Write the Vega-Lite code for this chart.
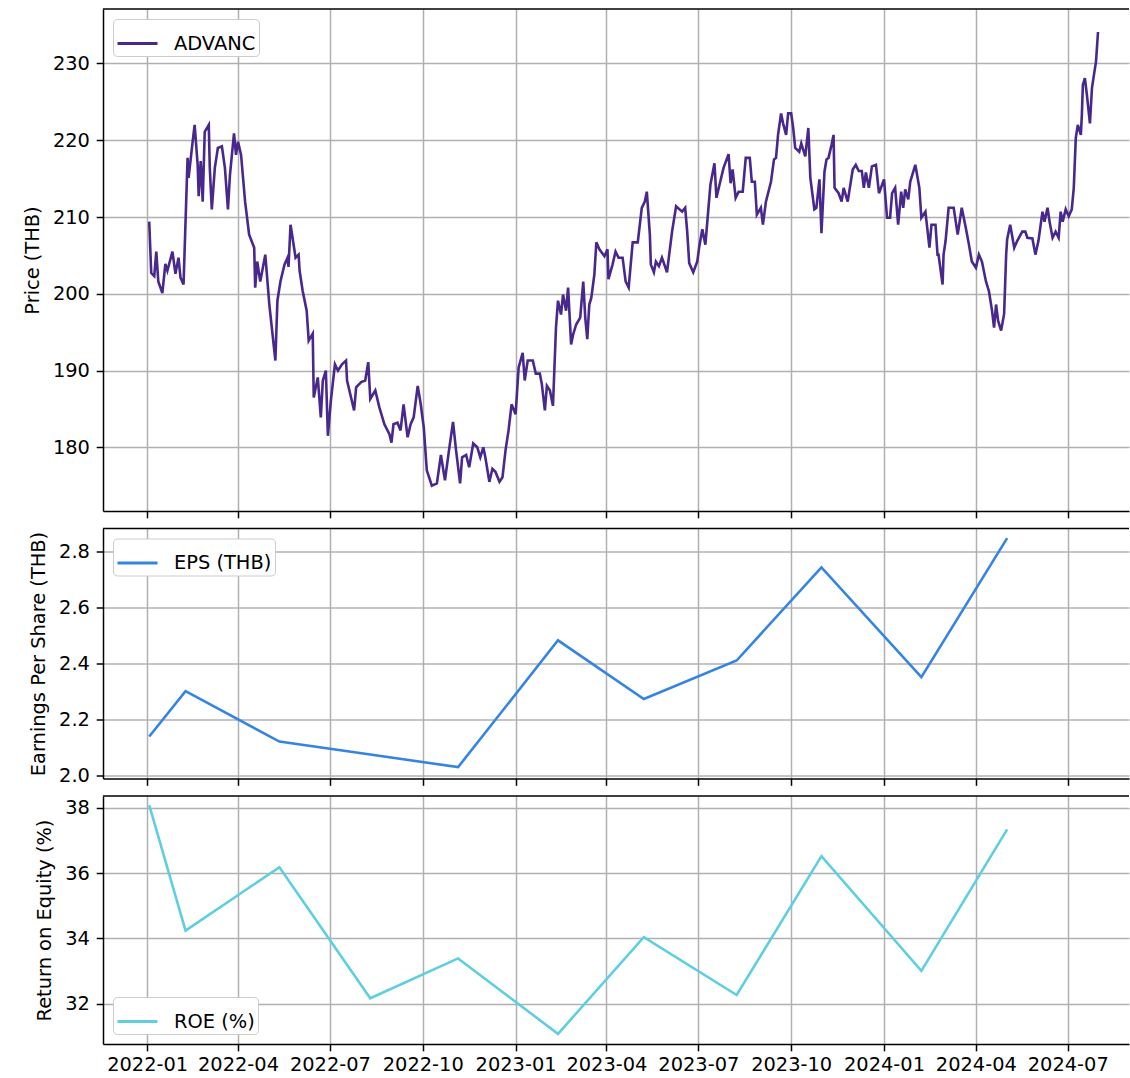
{
"$schema": "https://vega.github.io/schema/vega-lite/v6.json",
"padding": {"left": 22, "top": 8, "right": 0, "bottom": 0},
"autosize": {"type": "pad"},
"bounds": "flush",
"spacing": 17.5,
"background": "white",
"config": {
 "view": {"stroke": null},
 "font": "DejaVu Sans",
 "axis": {"grid": true, "gridColor": "#b0b0b0", "gridWidth": 1.5, "domainColor": "#000", "domainWidth": 1.5, "tickColor": "#000", "tickWidth": 1.5, "tickSize": 6.8, "labelPadding": 6.8, "labelFont": "DejaVu Sans", "labelFontSize": 19.4, "labelColor": "#000", "titleFont": "DejaVu Sans", "titleFontSize": 19.4, "titleFontWeight": "normal", "titleColor": "#000", "titlePadding": 10},
 "legend": {"title": null, "offset": 10, "padding": 3, "strokeColor": "#cccccc", "fillColor": "white", "cornerRadius": 4, "symbolType": "stroke", "symbolSize": 1600, "symbolStrokeWidth": 2.9, "labelFont": "DejaVu Sans", "labelFontSize": 19.4, "labelColor": "#000", "labelOffset": 15}
},
"datasets": {
 "price": [
{"date":"2022-01-03","close":209.4},{"date":"2022-01-05","close":202.7},{"date":"2022-01-08","close":202.3},{"date":"2022-01-10","close":205.5},{"date":"2022-01-12","close":201.6},{"date":"2022-01-16","close":200.1},{"date":"2022-01-19","close":203.9},{"date":"2022-01-21","close":203.0},{"date":"2022-01-26","close":205.5},{"date":"2022-01-29","close":202.6},{"date":"2022-02-01","close":204.7},{"date":"2022-02-03","close":202.1},{"date":"2022-02-06","close":201.2},{"date":"2022-02-10","close":217.7},{"date":"2022-02-11","close":215.1},{"date":"2022-02-15","close":219.8},{"date":"2022-02-17","close":222.0},{"date":"2022-02-20","close":216.8},{"date":"2022-02-21","close":212.7},{"date":"2022-02-23","close":217.3},{"date":"2022-02-25","close":212.0},{"date":"2022-02-27","close":221.1},{"date":"2022-03-03","close":222.0},{"date":"2022-03-04","close":216.4},{"date":"2022-03-06","close":211.0},{"date":"2022-03-09","close":216.4},{"date":"2022-03-12","close":219.0},{"date":"2022-03-16","close":219.2},{"date":"2022-03-19","close":216.4},{"date":"2022-03-22","close":211.0},{"date":"2022-03-24","close":215.5},{"date":"2022-03-28","close":220.9},{"date":"2022-03-30","close":218.1},{"date":"2022-04-01","close":219.8},{"date":"2022-04-04","close":218.1},{"date":"2022-04-08","close":212.0},{"date":"2022-04-12","close":207.7},{"date":"2022-04-17","close":206.0},{"date":"2022-04-18","close":200.8},{"date":"2022-04-20","close":204.2},{"date":"2022-04-23","close":201.6},{"date":"2022-04-28","close":205.1},{"date":"2022-05-02","close":198.6},{"date":"2022-05-08","close":191.3},{"date":"2022-05-10","close":199.1},{"date":"2022-05-13","close":201.6},{"date":"2022-05-17","close":203.8},{"date":"2022-05-20","close":204.7},{"date":"2022-05-21","close":203.5},{"date":"2022-05-23","close":209.0},{"date":"2022-05-25","close":207.3},{"date":"2022-05-28","close":204.7},{"date":"2022-05-31","close":205.1},{"date":"2022-06-01","close":203.0},{"date":"2022-06-04","close":200.4},{"date":"2022-06-08","close":197.8},{"date":"2022-06-10","close":193.9},{"date":"2022-06-14","close":194.8},{"date":"2022-06-15","close":186.5},{"date":"2022-06-19","close":189.1},{"date":"2022-06-22","close":183.9},{"date":"2022-06-24","close":188.7},{"date":"2022-06-27","close":190.0},{"date":"2022-06-29","close":181.5},{"date":"2022-07-02","close":186.1},{"date":"2022-07-06","close":190.8},{"date":"2022-07-09","close":190.0},{"date":"2022-07-13","close":190.8},{"date":"2022-07-17","close":191.3},{"date":"2022-07-18","close":188.7},{"date":"2022-07-25","close":184.8},{"date":"2022-07-27","close":187.8},{"date":"2022-08-01","close":188.5},{"date":"2022-08-05","close":188.7},{"date":"2022-08-08","close":191.1},{"date":"2022-08-10","close":186.3},{"date":"2022-08-15","close":187.4},{"date":"2022-08-19","close":185.2},{"date":"2022-08-24","close":183.0},{"date":"2022-08-29","close":181.7},{"date":"2022-08-31","close":180.6},{"date":"2022-09-02","close":183.0},{"date":"2022-09-06","close":183.2},{"date":"2022-09-09","close":182.2},{"date":"2022-09-12","close":185.6},{"date":"2022-09-16","close":181.3},{"date":"2022-09-19","close":183.0},{"date":"2022-09-22","close":183.9},{"date":"2022-09-26","close":188.0},{"date":"2022-09-29","close":185.6},{"date":"2022-10-02","close":182.6},{"date":"2022-10-05","close":177.0},{"date":"2022-10-10","close":175.0},{"date":"2022-10-15","close":175.3},{"date":"2022-10-19","close":179.0},{"date":"2022-10-23","close":175.7},{"date":"2022-10-27","close":179.6},{"date":"2022-10-31","close":183.3},{"date":"2022-11-03","close":179.6},{"date":"2022-11-07","close":175.3},{"date":"2022-11-09","close":178.7},{"date":"2022-11-13","close":179.0},{"date":"2022-11-16","close":177.4},{"date":"2022-11-20","close":180.5},{"date":"2022-11-24","close":180.0},{"date":"2022-11-27","close":178.7},{"date":"2022-11-30","close":180.0},{"date":"2022-12-02","close":178.7},{"date":"2022-12-06","close":175.5},{"date":"2022-12-09","close":177.2},{"date":"2022-12-12","close":176.8},{"date":"2022-12-16","close":175.5},{"date":"2022-12-19","close":176.1},{"date":"2022-12-22","close":179.6},{"date":"2022-12-25","close":182.2},{"date":"2022-12-28","close":185.6},{"date":"2023-01-01","close":184.3},{"date":"2023-01-04","close":190.4},{"date":"2023-01-08","close":192.3},{"date":"2023-01-10","close":188.7},{"date":"2023-01-13","close":191.3},{"date":"2023-01-18","close":191.3},{"date":"2023-01-21","close":189.6},{"date":"2023-01-25","close":189.6},{"date":"2023-01-27","close":188.2},{"date":"2023-01-30","close":184.8},{"date":"2023-02-01","close":188.0},{"date":"2023-02-04","close":187.4},{"date":"2023-02-07","close":185.4},{"date":"2023-02-10","close":195.6},{"date":"2023-02-12","close":199.1},{"date":"2023-02-15","close":197.3},{"date":"2023-02-17","close":199.9},{"date":"2023-02-20","close":197.8},{"date":"2023-02-22","close":200.8},{"date":"2023-02-25","close":193.4},{"date":"2023-02-27","close":194.7},{"date":"2023-03-02","close":196.0},{"date":"2023-03-06","close":196.9},{"date":"2023-03-09","close":201.6},{"date":"2023-03-11","close":196.9},{"date":"2023-03-13","close":194.1},{"date":"2023-03-15","close":198.6},{"date":"2023-03-17","close":199.5},{"date":"2023-03-20","close":202.5},{"date":"2023-03-22","close":206.7},{"date":"2023-03-25","close":205.8},{"date":"2023-03-30","close":204.9},{"date":"2023-04-02","close":205.8},{"date":"2023-04-03","close":201.9},{"date":"2023-04-07","close":203.8},{"date":"2023-04-10","close":205.5},{"date":"2023-04-13","close":204.7},{"date":"2023-04-17","close":204.7},{"date":"2023-04-20","close":201.6},{"date":"2023-04-23","close":200.8},{"date":"2023-04-27","close":206.7},{"date":"2023-05-02","close":206.7},{"date":"2023-05-06","close":211.2},{"date":"2023-05-09","close":212.0},{"date":"2023-05-11","close":213.3},{"date":"2023-05-14","close":207.7},{"date":"2023-05-15","close":203.8},{"date":"2023-05-18","close":202.8},{"date":"2023-05-20","close":204.2},{"date":"2023-05-23","close":203.6},{"date":"2023-05-26","close":204.7},{"date":"2023-05-31","close":202.8},{"date":"2023-06-05","close":208.1},{"date":"2023-06-09","close":211.4},{"date":"2023-06-15","close":210.7},{"date":"2023-06-18","close":211.2},{"date":"2023-06-20","close":208.1},{"date":"2023-06-22","close":204.0},{"date":"2023-06-26","close":202.8},{"date":"2023-06-30","close":204.2},{"date":"2023-07-02","close":206.2},{"date":"2023-07-05","close":208.4},{"date":"2023-07-08","close":206.4},{"date":"2023-07-13","close":214.2},{"date":"2023-07-17","close":217.0},{"date":"2023-07-19","close":212.5},{"date":"2023-07-22","close":214.2},{"date":"2023-07-26","close":216.4},{"date":"2023-07-31","close":218.2},{"date":"2023-08-02","close":214.4},{"date":"2023-08-04","close":216.2},{"date":"2023-08-07","close":212.5},{"date":"2023-08-10","close":213.3},{"date":"2023-08-14","close":213.3},{"date":"2023-08-17","close":217.7},{"date":"2023-08-21","close":217.7},{"date":"2023-08-23","close":214.6},{"date":"2023-08-26","close":214.6},{"date":"2023-08-28","close":210.3},{"date":"2023-09-01","close":211.2},{"date":"2023-09-03","close":209.0},{"date":"2023-09-06","close":212.0},{"date":"2023-09-11","close":214.6},{"date":"2023-09-14","close":217.5},{"date":"2023-09-16","close":217.7},{"date":"2023-09-18","close":220.7},{"date":"2023-09-21","close":223.5},{"date":"2023-09-23","close":222.2},{"date":"2023-09-26","close":220.7},{"date":"2023-09-28","close":223.5},{"date":"2023-10-01","close":223.5},{"date":"2023-10-03","close":221.6},{"date":"2023-10-05","close":219.0},{"date":"2023-10-09","close":218.5},{"date":"2023-10-11","close":219.6},{"date":"2023-10-15","close":217.9},{"date":"2023-10-18","close":221.6},{"date":"2023-10-20","close":215.1},{"date":"2023-10-24","close":211.0},{"date":"2023-10-26","close":211.2},{"date":"2023-10-29","close":214.9},{"date":"2023-10-31","close":207.9},{"date":"2023-11-03","close":215.9},{"date":"2023-11-05","close":217.5},{"date":"2023-11-07","close":217.7},{"date":"2023-11-10","close":219.4},{"date":"2023-11-12","close":220.7},{"date":"2023-11-13","close":213.8},{"date":"2023-11-17","close":213.1},{"date":"2023-11-20","close":212.0},{"date":"2023-11-22","close":213.8},{"date":"2023-11-26","close":212.0},{"date":"2023-12-01","close":216.2},{"date":"2023-12-04","close":216.8},{"date":"2023-12-07","close":216.0},{"date":"2023-12-10","close":216.0},{"date":"2023-12-12","close":213.8},{"date":"2023-12-14","close":215.8},{"date":"2023-12-17","close":213.8},{"date":"2023-12-20","close":216.6},{"date":"2023-12-24","close":216.8},{"date":"2023-12-27","close":213.1},{"date":"2024-01-01","close":214.9},{"date":"2024-01-04","close":209.9},{"date":"2024-01-07","close":209.9},{"date":"2024-01-09","close":213.1},{"date":"2024-01-12","close":213.8},{"date":"2024-01-15","close":209.0},{"date":"2024-01-18","close":213.3},{"date":"2024-01-20","close":211.2},{"date":"2024-01-22","close":213.6},{"date":"2024-01-25","close":212.3},{"date":"2024-01-27","close":214.6},{"date":"2024-02-01","close":216.8},{"date":"2024-02-05","close":213.8},{"date":"2024-02-07","close":209.9},{"date":"2024-02-11","close":210.7},{"date":"2024-02-15","close":206.0},{"date":"2024-02-17","close":209.0},{"date":"2024-02-21","close":209.0},{"date":"2024-02-23","close":205.1},{"date":"2024-02-24","close":205.1},{"date":"2024-02-28","close":201.2},{"date":"2024-02-29","close":205.1},{"date":"2024-03-02","close":206.9},{"date":"2024-03-05","close":211.2},{"date":"2024-03-10","close":211.2},{"date":"2024-03-14","close":207.7},{"date":"2024-03-18","close":211.2},{"date":"2024-03-22","close":208.6},{"date":"2024-03-25","close":206.5},{"date":"2024-03-28","close":204.2},{"date":"2024-04-01","close":203.4},{"date":"2024-04-04","close":205.1},{"date":"2024-04-07","close":204.2},{"date":"2024-04-11","close":201.6},{"date":"2024-04-14","close":200.3},{"date":"2024-04-17","close":197.8},{"date":"2024-04-19","close":195.6},{"date":"2024-04-21","close":198.6},{"date":"2024-04-23","close":196.5},{"date":"2024-04-26","close":195.2},{"date":"2024-04-29","close":197.4},{"date":"2024-05-01","close":205.1},{"date":"2024-05-02","close":207.1},{"date":"2024-05-05","close":209.0},{"date":"2024-05-09","close":206.0},{"date":"2024-05-12","close":206.9},{"date":"2024-05-17","close":208.1},{"date":"2024-05-20","close":208.1},{"date":"2024-05-22","close":207.3},{"date":"2024-05-27","close":207.2},{"date":"2024-05-30","close":205.1},{"date":"2024-06-02","close":206.9},{"date":"2024-06-06","close":210.7},{"date":"2024-06-08","close":209.4},{"date":"2024-06-11","close":211.2},{"date":"2024-06-13","close":209.4},{"date":"2024-06-16","close":207.3},{"date":"2024-06-19","close":208.1},{"date":"2024-06-22","close":207.3},{"date":"2024-06-24","close":210.7},{"date":"2024-06-26","close":209.4},{"date":"2024-06-29","close":211.0},{"date":"2024-07-02","close":210.1},{"date":"2024-07-05","close":211.0},{"date":"2024-07-07","close":213.8},{"date":"2024-07-09","close":220.3},{"date":"2024-07-11","close":222.0},{"date":"2024-07-14","close":220.7},{"date":"2024-07-15","close":223.3},{"date":"2024-07-16","close":227.2},{"date":"2024-07-18","close":228.1},{"date":"2024-07-20","close":225.9},{"date":"2024-07-23","close":222.2},{"date":"2024-07-25","close":226.8},{"date":"2024-07-28","close":229.4},{"date":"2024-07-29","close":230.2},{"date":"2024-07-31","close":234.1}
 ],
 "fin": [
{"date":"2022-01-03","eps":2.139,"roe":38.08},{"date":"2022-02-08","eps":2.301,"roe":34.24},{"date":"2022-05-12","eps":2.121,"roe":36.18},{"date":"2022-08-10","eps":2.075,"roe":32.17},{"date":"2022-11-05","eps":2.03,"roe":33.39},{"date":"2023-02-12","eps":2.482,"roe":31.08},{"date":"2023-05-08","eps":2.273,"roe":34.04},{"date":"2023-08-08","eps":2.41,"roe":32.27},{"date":"2023-10-31","eps":2.742,"roe":36.52},{"date":"2024-02-07","eps":2.351,"roe":33.01},{"date":"2024-05-02","eps":2.846,"roe":37.34}
 ]
},
"resolve": {"scale": {"color": "independent"}, "legend": {"color": "independent"}},
"vconcat": [
 {
  "width": 1026, "height": 502,
  "layer": [
   {
    "data": {"name": "price"},
    "mark": {"type": "line", "strokeWidth": 2.6},
    "encoding": {
     "x": {"field": "date", "type": "temporal", "scale": {"type": "utc", "domain": [{"year": 2021, "month": 11, "date": 18, "hours": 5, "utc": true}, {"year": 2024, "month": 8, "date": 30, "hours": 17, "utc": true}]}, "axis": {"title": null, "labels": false, "tickCount": {"interval": "month", "step": 3}}},
     "y": {"field": "close", "type": "quantitative", "scale": {"domain": [171.7, 237.1], "zero": false, "nice": false}, "axis": {"title": "Price (THB)", "values": [180, 190, 200, 210, 220, 230]}},
     "color": {"datum": "ADVANC", "type": "nominal", "scale": {"range": ["#48288c"]}, "legend": {"orient": "top-left"}}
    }
   },
   {
    "data": {"values": [{}]},
    "mark": {"type": "rule", "color": "#000", "strokeWidth": 1.5},
    "encoding": {"y": {"datum": 237.1, "type": "quantitative"}}
   }
  ]
 },
 {
  "width": 1026, "height": 250,
  "layer": [
   {
    "data": {"name": "fin"},
    "mark": {"type": "line", "strokeWidth": 2.6},
    "encoding": {
     "x": {"field": "date", "type": "temporal", "scale": {"type": "utc", "domain": [{"year": 2021, "month": 11, "date": 18, "hours": 5, "utc": true}, {"year": 2024, "month": 8, "date": 30, "hours": 17, "utc": true}]}, "axis": {"title": null, "labels": false, "tickCount": {"interval": "month", "step": 3}}},
     "y": {"field": "eps", "type": "quantitative", "scale": {"domain": [1.9895, 2.8805], "zero": false, "nice": false}, "axis": {"title": "Earnings Per Share (THB)", "values": [2.0, 2.2, 2.4, 2.6, 2.8], "format": ".1f"}},
     "color": {"datum": "EPS (THB)", "type": "nominal", "scale": {"range": ["#3584e4"]}, "legend": {"orient": "top-left"}}
    }
   },
   {
    "data": {"values": [{}]},
    "mark": {"type": "rule", "color": "#000", "strokeWidth": 1.5},
    "encoding": {"y": {"datum": 2.8805, "type": "quantitative"}}
   }
  ]
 },
 {
  "width": 1026, "height": 248,
  "layer": [
   {
    "data": {"name": "fin"},
    "mark": {"type": "line", "strokeWidth": 2.6},
    "encoding": {
     "x": {"field": "date", "type": "temporal", "scale": {"type": "utc", "domain": [{"year": 2021, "month": 11, "date": 18, "hours": 5, "utc": true}, {"year": 2024, "month": 8, "date": 30, "hours": 17, "utc": true}]}, "axis": {"title": null, "format": "%Y-%m", "labelOverlap": false, "labelPadding": 4.5, "tickCount": {"interval": "month", "step": 3}}},
     "y": {"field": "roe", "type": "quantitative", "scale": {"domain": [30.77, 38.36], "zero": false, "nice": false}, "axis": {"title": "Return on Equity (%)", "values": [32, 34, 36, 38]}},
     "color": {"datum": "ROE (%)", "type": "nominal", "scale": {"range": ["#5fcfe0"]}, "legend": {"orient": "bottom-left"}}
    }
   },
   {
    "data": {"values": [{}]},
    "mark": {"type": "rule", "color": "#000", "strokeWidth": 1.5},
    "encoding": {"y": {"datum": 38.36, "type": "quantitative"}}
   }
  ]
 }
]
}
